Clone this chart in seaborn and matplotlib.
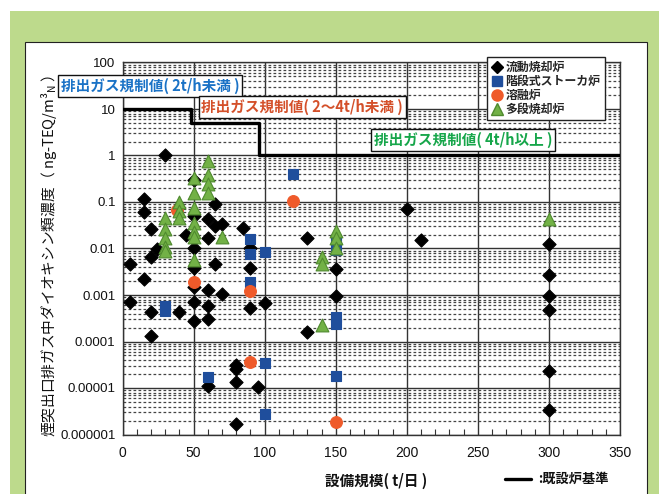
import numpy as np
import pandas as pd
import seaborn as sns
import matplotlib
matplotlib.use("Agg")
import matplotlib.pyplot as plt
from matplotlib.lines import Line2D
from matplotlib.patches import Rectangle
from matplotlib.ticker import FixedLocator, NullFormatter

# ---------------- data ----------------
fluid_x = [30, 15, 15, 50, 65, 50, 60, 65, 70, 20, 85, 45, 60, 130, 200, 210, 300,
           24, 50, 90, 20, 5, 50, 65, 90, 150, 300, 15, 60, 50, 70, 150, 300,
           5, 50, 60, 100, 90, 300, 20, 40, 60, 50, 20, 130, 80, 80, 60, 80, 95, 80,
           300, 300]
fluid_y = [1.0, 0.115, 0.062, 0.30, 0.089, 0.051, 0.044, 0.031, 0.034, 0.026, 0.027, 0.020, 0.017, 0.017, 0.07, 0.015, 0.0123,
           0.0098, 0.010, 0.010, 0.0066, 0.0047, 0.0038, 0.0047, 0.0038, 0.0036, 0.0027, 0.0022, 0.0013, 0.0015, 0.00105, 0.00097, 0.00096,
           0.00072, 0.00072, 0.00058, 0.00067, 0.00053, 0.00048, 0.00043, 0.00043, 0.00031, 0.00028, 0.000134, 0.000163, 0.000031, 0.000026,
           0.0000113, 0.0000135, 0.0000107, 0.0000017, 0.0000235, 0.0000034]

stoker_x = [120, 90, 150, 150, 90, 100, 90, 30, 30, 150, 150, 100, 60, 150, 100]
stoker_y = [0.40, 0.016, 0.015, 0.0095, 0.0075, 0.0083, 0.0019, 0.00058, 0.00045, 0.00033, 0.00024,
            0.000034, 0.0000175, 0.0000182, 0.0000028]

melt_x = [120, 38, 50, 90, 90, 150]
melt_y = [0.105, 0.068, 0.0019, 0.0012, 0.000037, 0.0000019]

multi_x = [30, 30, 30, 30, 30, 40, 40, 40, 50, 50, 50, 50, 50, 50, 50,
           60, 60, 60, 60, 70, 140, 140, 140, 150, 150, 150, 300]
multi_y = [0.046, 0.026, 0.017, 0.0107, 0.009, 0.099, 0.065, 0.045,
           0.33, 0.16, 0.075, 0.035, 0.023, 0.018, 0.0056,
           0.77, 0.39, 0.24, 0.155, 0.018, 0.0066, 0.0047, 0.00023, 0.024, 0.017, 0.01, 0.043]

types = ["流動焼却炉", "階段式ストーカ炉", "溶融炉", "多段焼却炉"]

reg_x = [0, 48, 96, 350]
reg_y = [10, 5, 1, 1]

x_ticks = [0, 50, 100, 150, 200, 250, 300, 350]
y_ticks = [1e-6, 1e-5, 1e-4, 1e-3, 1e-2, 1e-1, 1, 10, 100]
y_tick_labels = ["0.000001", "0.00001", "0.0001", "0.001", "0.01", "0.1", "1", "10", "100"]

# ---------------- style ----------------
sns.set_theme(style="white")
plt.rcParams['font.family'] = ['Liberation Sans', 'Noto Sans CJK JP', 'DejaVu Sans']
plt.rcParams['axes.unicode_minus'] = False
plt.rcParams['mathtext.fontset'] = 'custom'
plt.rcParams['mathtext.rm'] = 'Liberation Sans'

df = pd.concat([
    pd.DataFrame({"x": fluid_x, "y": fluid_y, "type": types[0]}),
    pd.DataFrame({"x": stoker_x, "y": stoker_y, "type": types[1]}),
    pd.DataFrame({"x": melt_x, "y": melt_y, "type": types[2]}),
    pd.DataFrame({"x": multi_x, "y": multi_y, "type": types[3]}),
], ignore_index=True)

palette = {types[0]: "#000000", types[1]: "#1f4e9c", types[2]: "#ef5a2a", types[3]: "#72b146"}
markers = {types[0]: "D", types[1]: "s", types[2]: "o", types[3]: "^"}
edges = {types[0]: "#000000", types[1]: "#1f4e9c", types[2]: "#ef5a2a", types[3]: "#4f8a2e"}
sizes = {types[0]: 45, types[1]: 58, types[2]: 72, types[3]: 85}

W, H = 669, 494
fig = plt.figure(figsize=(W / 100, H / 100), dpi=100)
fig.patch.set_facecolor("white")

# green frame and white panel
fig.patches.append(Rectangle((10 / W, 0), 649 / W, 1 - 11 / H, transform=fig.transFigure,
                             facecolor="#bdda8c", edgecolor="none", zorder=-10))
fig.patches.append(Rectangle((25 / W, -0.05), 622 / W, 1 - 42 / H + 0.05, transform=fig.transFigure,
                             facecolor="white", edgecolor="#222222", linewidth=0.8, zorder=-9))

ax = fig.add_axes([122.5 / W, 1 - 434.5 / H, (620 - 122.5) / W, (434.5 - 62.5) / H])
ax.set_facecolor("white")
ax.set_yscale("log")
ax.set_xlim(0, 350)
ax.set_ylim(1e-6, 100)

# grid
ax.set_xticks(x_ticks)
ax.set_yticks(y_ticks)
ax.set_yticklabels(y_tick_labels)
minor_y = [m * 10.0 ** e for e in range(-6, 2) for m in range(2, 10)]
ax.yaxis.set_minor_locator(FixedLocator(minor_y))
ax.yaxis.set_minor_formatter(NullFormatter())
ax.xaxis.set_minor_locator(FixedLocator([v for v in range(10, 350, 10) if v % 50]))
ax.grid(which="major", axis="both", color="#333333", linewidth=1.0, linestyle="-")
ax.grid(which="minor", axis="y", color="#444444", linewidth=0.9, linestyle=(0, (2.2, 1.8)))
ax.set_axisbelow(True)
for s in ax.spines.values():
    s.set_color("#333333")
    s.set_linewidth(1.0)
ax.tick_params(axis="y", which="major", labelsize=9.5, length=0, pad=5, colors="#111111")
ax.tick_params(axis="x", which="major", labelsize=10, length=0, pad=8, colors="#111111")
ax.tick_params(axis="x", which="minor", direction="in", length=4, width=0.8, color="#333333", bottom=True)
ax.tick_params(axis="y", which="minor", length=0)

# regulation step line
sns.lineplot(x=reg_x, y=reg_y, ax=ax, color="black", linewidth=2.4, drawstyle="steps-post",
             estimator=None, legend=False, zorder=3)

# scatter
for t in types:
    sub = df[df["type"] == t]
    sns.scatterplot(data=sub, x="x", y="y", ax=ax, color=palette[t], marker=markers[t],
                    s=sizes[t], edgecolor=edges[t], linewidth=0.8, legend=False, zorder=4)

ax.set_xlabel("")
ax.set_ylabel("")

# legend
handles = [Line2D([], [], linestyle="none", marker=markers[t], markersize=s_, color=palette[t],
                  markeredgecolor=edges[t]) for t, s_ in zip(types, [6, 7, 8, 8.5])]
leg = fig.legend(handles, types, loc="upper left", bbox_to_anchor=(487 / W, 1 - 57 / H),
                 frameon=True, fancybox=False, framealpha=1, edgecolor="#222222",
                 prop={"family": ["Noto Sans CJK JP"], "size": 8.6, "weight": "bold"},
                 handletextpad=0.2, labelspacing=0.08, borderpad=0.35, handlelength=1.0,
                 borderaxespad=0)
leg.get_frame().set_linewidth(1.0)

# regulation labels
cjk = ["Noto Sans CJK JP", "DejaVu Sans"]
box = dict(boxstyle="square,pad=0.18", facecolor="white", edgecolor="#111111", linewidth=1.0)
fig.text(150 / W, 1 - 86 / H, "排出ガス規制値( 2t/h未満 )", color="#1a72c6", fontsize=10.5,
         fontweight="bold", family=cjk, ha="center", va="center", bbox=box, zorder=6)
fig.text(302 / W, 1 - 107 / H, "排出ガス規制値( 2～4t/h未満 )", color="#d4502a", fontsize=10.5,
         fontweight="bold", family=cjk, ha="center", va="center", bbox=box, zorder=6)
fig.text(463 / W, 1 - 140 / H, "排出ガス規制値( 4t/h以上 )", color="#16a64a", fontsize=10.5,
         fontweight="bold", family=cjk, ha="center", va="center", bbox=box, zorder=6)

# axis titles
fig.text(49 / W, 1 - 256 / H, "煙突出口排ガス中ダイオキシン類濃度（ ng-TEQ/m³$_{\\mathregular{N}}$ ）",
         rotation=90, fontsize=10.6, family=cjk, ha="center", va="center", color="#111111")
fig.text(376 / W, 1 - 481 / H, "設備規模( t/日 )", fontsize=10.5, fontweight="bold", family=cjk,
         ha="center", va="center", color="#111111")
fig.add_artist(Line2D([505 / W, 531 / W], [1 - 479 / H, 1 - 479 / H], transform=fig.transFigure,
                      color="black", linewidth=2.4))
fig.text(538 / W, 1 - 479 / H, ":既設炉基準", fontsize=9.5, fontweight="bold", family=cjk,
         ha="left", va="center", color="#111111")

fig.savefig("out.png", dpi=100, facecolor=fig.get_facecolor())
